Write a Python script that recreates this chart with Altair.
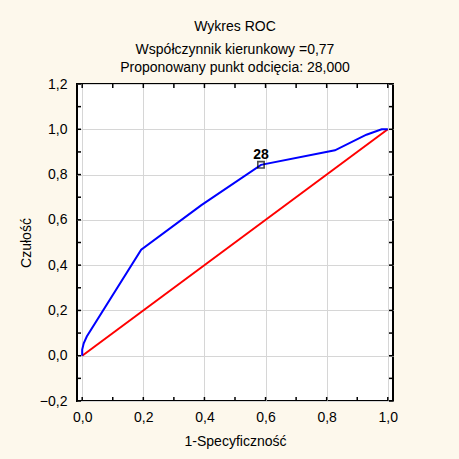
import altair as alt
import pandas as pd

# ROC curve (1-specificity, sensitivity)
fpr = [0.0, 0.0, 0.005, 0.015, 0.193, 0.39, 0.585, 0.827, 0.93, 0.98, 1.0]
tpr = [0.0, 0.027, 0.055, 0.085, 0.468, 0.665, 0.843, 0.907, 0.976, 1.0, 1.0]
# reference diagonal
diag_x = [0.0, 1.0]
diag_y = [0.0, 1.0]
# proposed cut-off point
cut_x = [0.585]
cut_y = [0.843]
cut_label = ["28"]
# axis values
x_grid = [0.0, 0.2, 0.4, 0.6, 0.8, 1.0]
y_grid = [-0.2, 0.0, 0.2, 0.4, 0.6, 0.8, 1.0, 1.2]
x_minor = [round(i * 0.1, 1) for i in range(0, 11)]
y_minor = [round(-0.2 + i * 0.1, 1) for i in range(0, 15)]

W, H = 316, 317
FONT = "Liberation Sans"
FS = 14
fmt = "replace(format(datum.value, '.1f'), '.', ',')"

xs = alt.Scale(domain=[-0.017, 1.017], nice=False, zero=False)
ys = alt.Scale(domain=[-0.2, 1.2], nice=False, zero=False)
xaxis = alt.Axis(values=x_grid, grid=True, gridColor="#d6d6d6", gridWidth=1,
                 domain=False, ticks=False, labelExpr=fmt, labelPadding=9,
                 labelFontSize=FS, labelFont=FONT, labelColor="black",
                 title="1-Specyficzność", titleFontSize=FS, titleFont=FONT,
                 titleFontWeight="normal", titleColor="black", titlePadding=10)
yaxis = alt.Axis(values=y_grid, grid=True, gridColor="#d6d6d6", gridWidth=1,
                 domain=False, ticks=False, labelExpr=fmt, labelPadding=10,
                 labelFontSize=FS, labelFont=FONT, labelColor="black",
                 title="Czułość", titleFontSize=FS, titleFont=FONT,
                 titleFontWeight="normal", titleColor="black", titlePadding=6)


def X(f):
    return alt.X(f, type="quantitative", scale=xs, axis=xaxis)


def Y(f):
    return alt.Y(f, type="quantitative", scale=ys, axis=yaxis)


roc = pd.DataFrame({"x": fpr, "y": tpr, "o": list(range(len(fpr)))})
diag = pd.DataFrame({"x": diag_x, "y": diag_y})
cut = pd.DataFrame({"x": cut_x, "y": cut_y, "t": cut_label})
xt = pd.DataFrame({"x": x_minor, "y": [0.0] * len(x_minor)})
yt = pd.DataFrame({"x": [0.0] * len(y_minor), "y": y_minor})

diag_line = alt.Chart(diag).mark_line(color="#ff0000", strokeWidth=2, clip=True).encode(
    x=X("x"), y=Y("y"))
roc_line = alt.Chart(roc).mark_line(color="#0000ff", strokeWidth=2, clip=True).encode(
    x=X("x"), y=Y("y"), order="o:Q")
cut_pt = alt.Chart(cut).mark_point(shape="square", size=40, filled=False, color="black",
                                   strokeWidth=1.6).encode(x=X("x"), y=Y("y"))
cut_txt = alt.Chart(cut).mark_text(dy=-10, fontSize=14, fontWeight="bold", font=FONT,
                                   color="black").encode(x=X("x"), y=Y("y"), text="t:N")

bt = alt.Chart(xt).mark_rule(color="black", strokeWidth=1.5).encode(
    x=X("x"), y=alt.value(H), y2=alt.value(H - 4))
tt = alt.Chart(xt).mark_rule(color="black", strokeWidth=1.5).encode(
    x=X("x"), y=alt.value(0), y2=alt.value(4))
lt = alt.Chart(yt).mark_rule(color="black", strokeWidth=1.5).encode(
    y=Y("y"), x=alt.value(0), x2=alt.value(4))
rt = alt.Chart(yt).mark_rule(color="black", strokeWidth=1.5).encode(
    y=Y("y"), x=alt.value(W), x2=alt.value(W - 4))

chart = alt.layer(diag_line, roc_line, cut_pt, cut_txt, bt, tt, lt, rt).properties(
    width=W, height=H,
    title=alt.TitleParams(
        text="Wykres ROC",
        subtitle=["Współczynnik kierunkowy =0,77", "Proponowany punkt odcięcia: 28,000"],
        anchor="middle", font=FONT, fontSize=FS, fontWeight="normal", color="black",
        subtitleFont=FONT, subtitleFontSize=FS, subtitleColor="black",
        subtitlePadding=9, subtitleLineHeight=18, offset=2),
    autosize=alt.AutoSizeParams(type="none"),
    padding={"left": 77, "top": 84, "right": 66, "bottom": 58},
    background="#fdf8ec",
).configure_view(stroke="black", strokeWidth=2, fill="white")

chart.save("out.html", embed_options={"renderer": "svg", "actions": False})
